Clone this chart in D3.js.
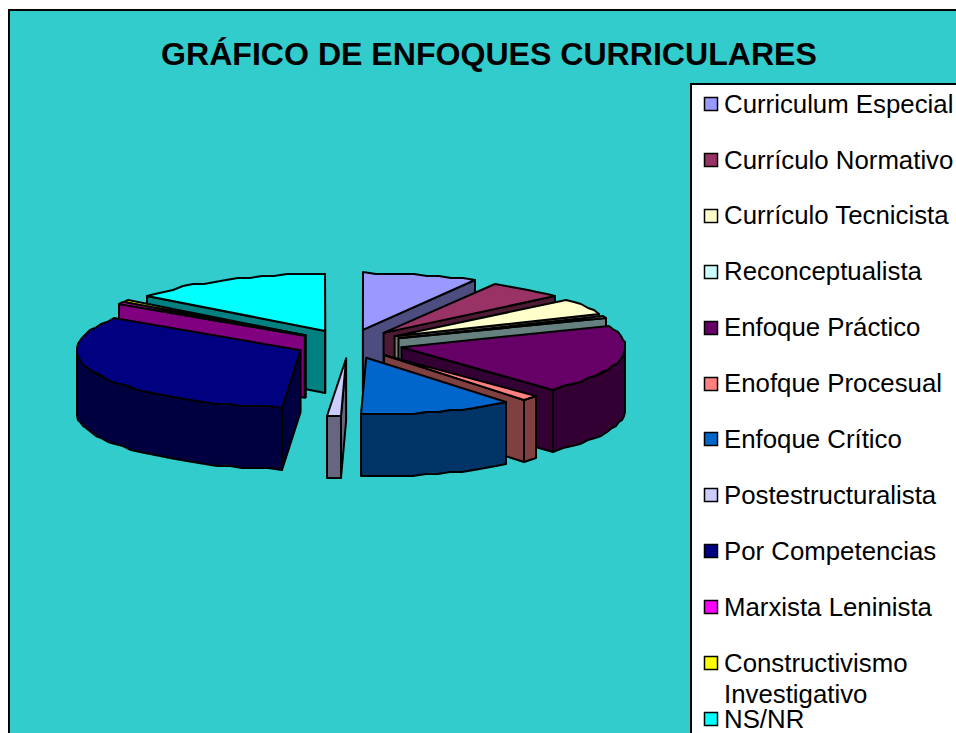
<!DOCTYPE html>
<html>
<head>
<meta charset="utf-8">
<script src="https://cdn.jsdelivr.net/npm/d3@7"></script>
<style>
  html, body { margin: 0; padding: 0; background: #fff; overflow: hidden; }
  text { font-family: "Liberation Sans", Arial, sans-serif; fill: #000; }
</style>
</head>
<body>
<div id="chart"></div>
<script>
var titleText = "GRÁFICO DE ENFOQUES CURRICULARES";
var categories = ["Curriculum Especial", "Currículo Normativo", "Currículo Tecnicista", "Reconceptualista",
  "Enfoque Práctico", "Enofque Procesual", "Enfoque Crítico", "Postestructuralista",
  "Por Competencias", "Marxista Leninista", "Constructivismo Investigativo", "NS/NR"];
var values = [8.3, 5.6, 4.4, 0.6, 19.2, 1.1, 11.1, 1.0, 33.0, 0.5, 0.5, 14.6];
var colors = ["#9999FF", "#993366", "#FFFFCC", "#CCFFFF", "#660066", "#FF8080", "#0066CC", "#CCCCFF",
  "#000080", "#FF00FF", "#FFFF00", "#00FFFF"];

var width = 956, height = 733;
var rx = 224, ry = 57, depth = 62;
var cx = 349, cy = 344;
var explodeX = 0.24, explodeY = 0.255;

var svg = d3.select("#chart").append("svg")
  .attr("width", width)
  .attr("height", height)
  .style("display", "block");

svg.append("rect")
  .attr("x", 9).attr("y", 10)
  .attr("width", width + 20).attr("height", height + 20)
  .attr("fill", "#33CCCC")
  .attr("stroke", "#000").attr("stroke-width", 2);

svg.append("text")
  .attr("x", 489).attr("y", 65)
  .attr("text-anchor", "middle")
  .style("font-size", "32.1px").style("font-weight", "bold")
  .text(titleText);

// unit circle -> tilted pie plane
var x = d3.scaleLinear().domain([-1, 1]).range([cx - rx, cx + rx]);
var y = d3.scaleLinear().domain([-1, 1]).range([cy - ry, cy + ry]);

var slices = d3.pie().sort(null).value(function (d) { return d; })(values)
  .map(function (d, i) {
    var mid = (d.startAngle + d.endAngle) / 2;
    return {
      a0: d.startAngle, a1: d.endAngle, mid: mid,
      color: colors[i],
      ox: explodeX * Math.sin(mid),
      oy: -explodeY * Math.cos(mid)
    };
  });

// excel draws the rim as a coarse polygon, snap it so it looks the same
function rimPoint(s, t) {
  var px = x(s.ox + Math.sin(t));
  var py = y(s.oy - Math.cos(t));
  return [Math.round(px), Math.round(py / 2) * 2];
}

function rim(s, a0, a1) {
  var pts = [];
  var step = 3.5 * Math.PI / 180;
  var n = Math.max(1, Math.ceil((a1 - a0) / step));
  d3.range(n + 1).forEach(function (k) {
    pts.push(rimPoint(s, a0 + (a1 - a0) * k / n));
  });
  return pts;
}

function shifted(pts) {
  return pts.map(function (p) { return [p[0], p[1] + depth]; });
}

var line = d3.line().curve(d3.curveLinearClosed);

// far slices first
var order = slices.slice().sort(function (a, b) {
  return Math.cos(b.mid) - Math.cos(a.mid);
});

var pie = svg.append("g")
  .attr("stroke", "#000").attr("stroke-width", 2).attr("stroke-linejoin", "round");

order.forEach(function (s) {
  var g = pie.append("g");
  var apex = [x(s.ox), y(s.oy)];
  var side = function () {
    var c = d3.rgb(s.color);
    return d3.rgb(c.r * 0.5, c.g * 0.5, c.b * 0.5).formatHex();
  }();

  function cutFace(t) {
    var e = rimPoint(s, t);
    g.append("path")
      .attr("d", line([apex, e, [e[0], e[1] + depth], [apex[0], apex[1] + depth]]))
      .attr("fill", side);
  }
  if (Math.sin(s.a0) < 0) cutFace(s.a0);
  if (Math.sin(s.a1) > 0) cutFace(s.a1);

  // outer wall only where the rim faces the viewer
  var w0 = Math.max(s.a0, Math.PI / 2), w1 = Math.min(s.a1, Math.PI * 1.5);
  if (w1 > w0) {
    var top = rim(s, w0, w1);
    g.append("path")
      .attr("d", line(top.concat(shifted(top).reverse())))
      .attr("fill", side);
  }

  g.append("path")
    .attr("d", line([apex].concat(rim(s, s.a0, s.a1))))
    .attr("fill", s.color);
});

// legend
var legend = svg.append("g");
legend.append("rect")
  .attr("x", 691).attr("y", 84)
  .attr("width", width).attr("height", height)
  .attr("fill", "#fff")
  .attr("stroke", "#000").attr("stroke-width", 2);

var rowY = d3.scaleLinear().domain([0, categories.length - 1]).range([104, 719]);

categories.forEach(function (name, i) {
  var yy = rowY(i);
  legend.append("rect")
    .attr("x", 704.5).attr("y", Math.round(yy) - 6.5)
    .attr("width", 13).attr("height", 13)
    .attr("fill", colors[i])
    .attr("stroke", "#000").attr("stroke-width", 1.5);

  var label = legend.append("text")
    .attr("x", 724).attr("y", yy + 8.6)
    .style("font-size", "25.8px");
  if (name === "Constructivismo Investigativo") {
    var parts = name.split(" ");
    label.append("tspan").attr("x", 724).text(parts[0]);
    label.append("tspan").attr("x", 724).attr("dy", 31).text(parts[1]);
  } else {
    label.text(name);
  }
});
</script>
</body>
</html>
